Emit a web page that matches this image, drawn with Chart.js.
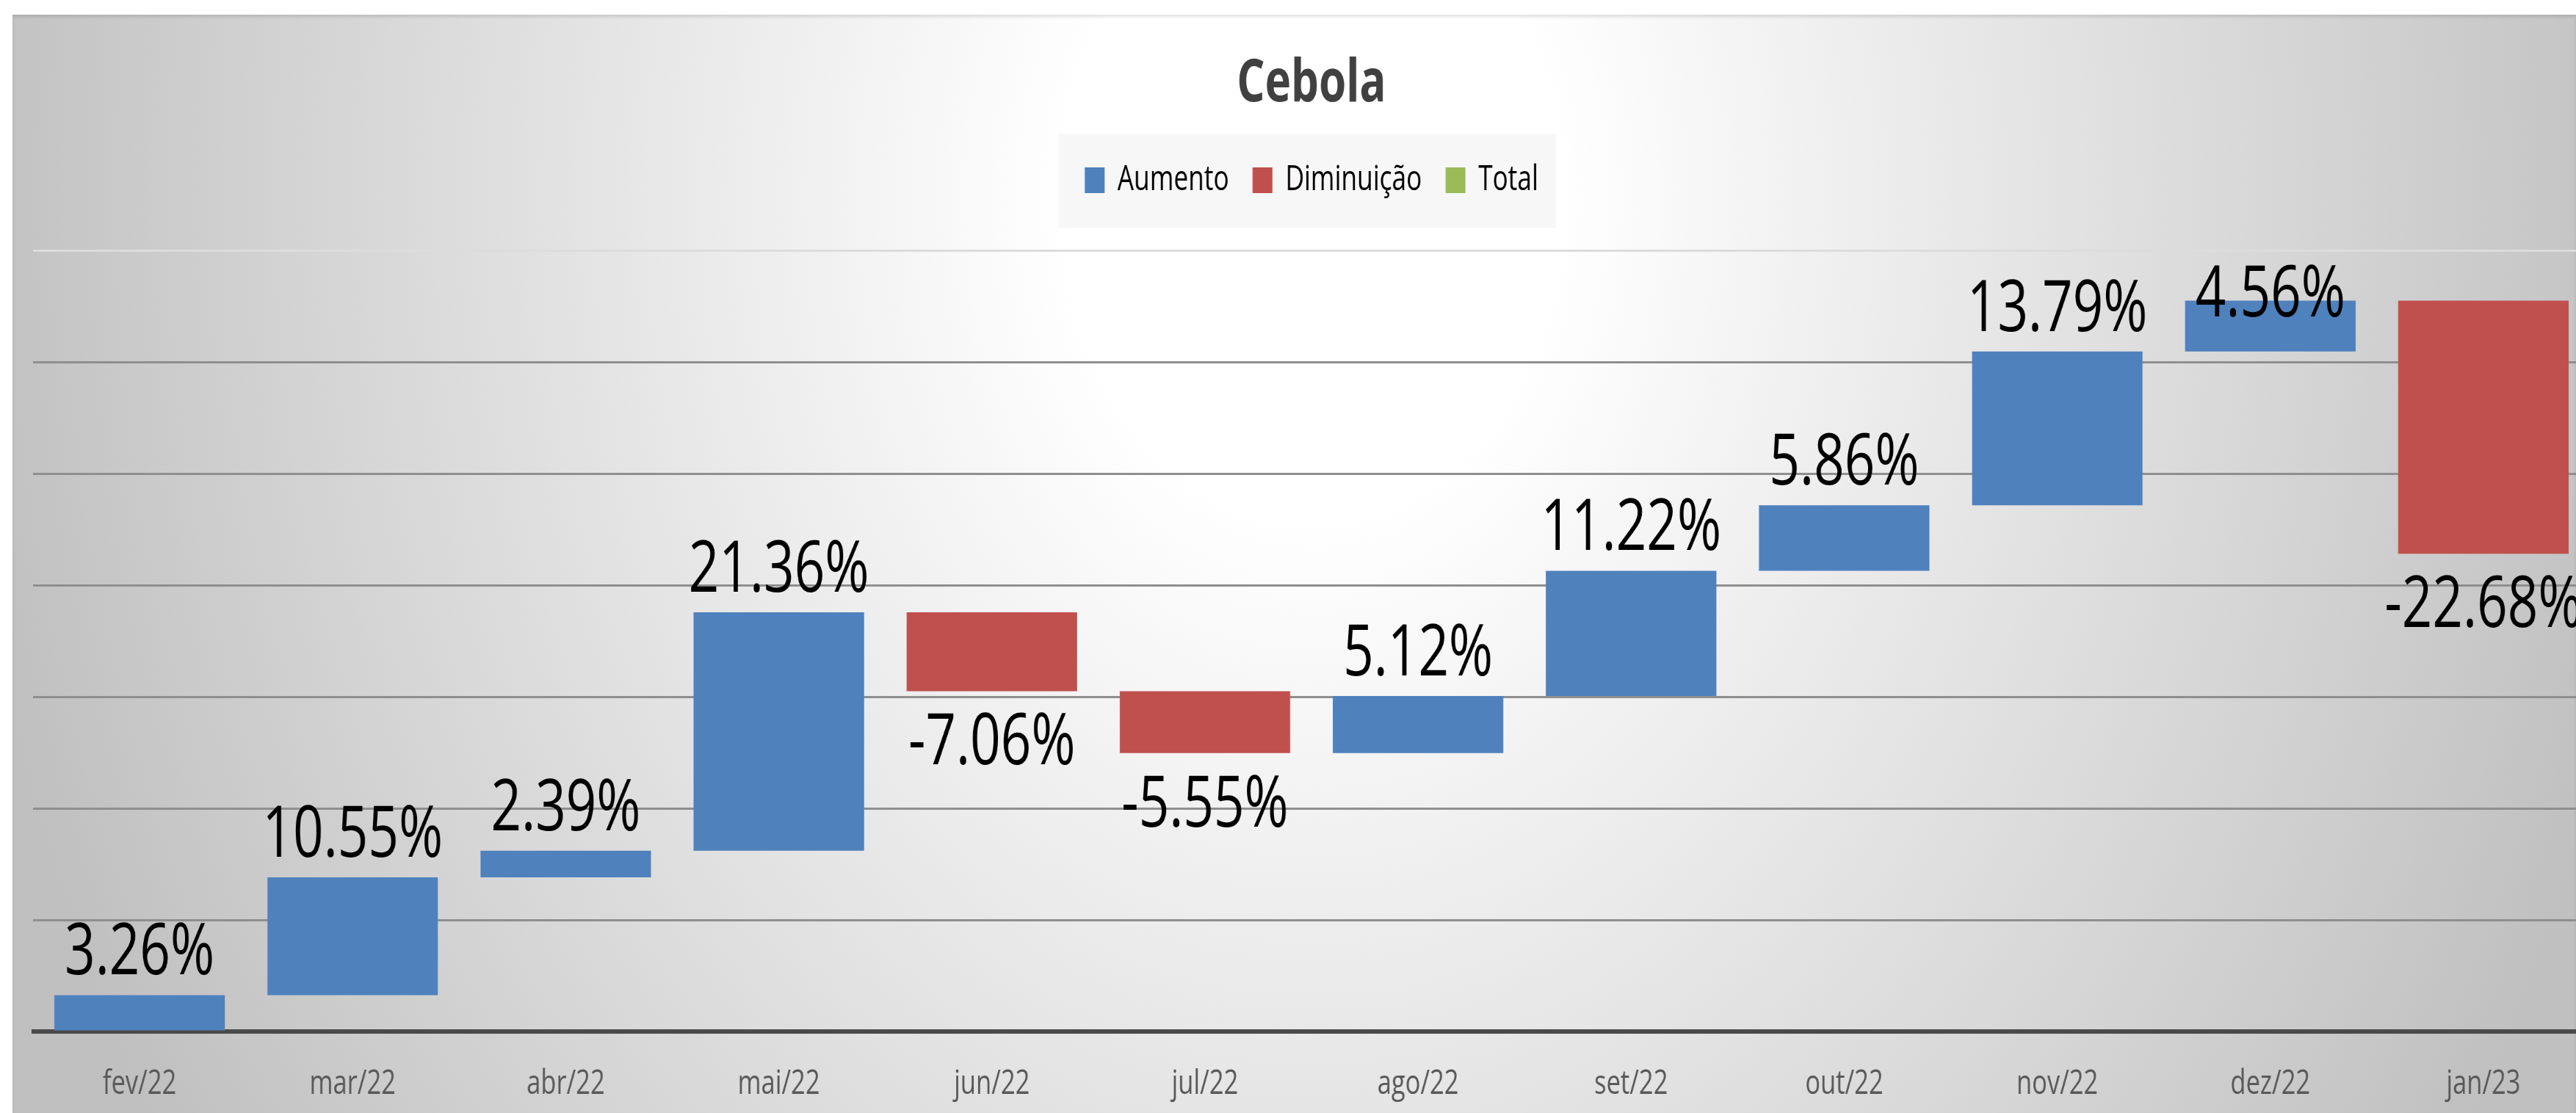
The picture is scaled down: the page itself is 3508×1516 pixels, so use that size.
<!DOCTYPE html>
<html>
<head>
<meta charset="utf-8">
<script src="https://cdn.jsdelivr.net/npm/chart.js@4.4.1/dist/chart.umd.min.js"></script>
<style>
    html, body {
        margin: 0;
        width: 3508px;
        height: 1516px;
        overflow: hidden;
        background: #ffffff;
    }
    #frame {
        position: absolute;
        left: 17px;
        top: 20px;
        width: 3491px;
        height: 1496px;
        background: radial-gradient(1850px 2400px at 1770px 250px, #ffffff 0%, #ffffff 18%, #c0c0c0 100%);
        box-shadow: inset 0 3px 4px rgba(0, 0, 0, 0.12);
    }
    /* Excel text here is narrow, so the chart is drawn wider and squeezed */
    #wrap {
        position: absolute;
        left: 0;
        top: 0;
        width: 4720px;
        height: 1516px;
        transform: scaleX(0.75);
        transform-origin: 0 0;
    }
</style>
</head>
<body>
<div id="frame"></div>
<div id="wrap"><canvas id="chart"></canvas></div>
<script>

// ===============================
// Data
// ===============================

const months = [
    "fev/22", "mar/22", "abr/22", "mai/22", "jun/22", "jul/22",
    "ago/22", "set/22", "out/22", "nov/22", "dez/22", "jan/23"
];

const changes = [
    3.26, 10.55, 2.39, 21.36, -7.06, -5.55,
    5.12, 11.22, 5.86, 13.79, 4.56, -22.68
];

const legendNames = ["Aumento", "Diminuição", "Total"];

const legendColors = ["#4F81BD", "#C0504D", "#9BBB59"];

const yMin = 0;
const yMax = 70;
const yStep = 10;

// ===============================
// Waterfall ranges
// ===============================

const ranges = [];
const barColors = [];
let running = 0;

changes.forEach(function(change){

    ranges.push([running, running + change]);
    running += change;

    barColors.push(change >= 0 ? legendColors[0] : legendColors[1]);

});

const SX = 0.75; // horizontal squeeze of the wrapper

// ===============================
// Plugins
// ===============================

const legendBoxPlugin = {
    id: "legendBox",
    beforeDraw(chart){
        const legend = chart.legend;
        if(!legend || !legend.legendHitBoxes.length) return;
        const boxes = legend.legendHitBoxes;
        const first = boxes[0];
        const last = boxes[boxes.length - 1];
        const mid = first.top + first.height / 2;
        const ctx = chart.ctx;
        ctx.save();
        ctx.fillStyle = "#f7f7f7";
        ctx.fillRect(
            first.left - 36 / SX,
            mid - 63,
            (last.left + last.width) - first.left + 60 / SX,
            128
        );
        ctx.restore();
    }
};

const valueLabelPlugin = {
    id: "valueLabels",
    afterDatasetsDraw(chart){
        const ctx = chart.ctx;
        const meta = chart.getDatasetMeta(0);
        const top = chart.chartArea.top;
        ctx.save();
        ctx.font = "97px 'Open Sans'";
        ctx.fillStyle = "#000000";
        ctx.textAlign = "center";
        ctx.textBaseline = "alphabetic";
        meta.data.forEach(function(bar, i){
            const value = changes[i];
            const upper = Math.min(bar.y, bar.base);
            const lower = Math.max(bar.y, bar.base);
            let y;
            if(value >= 0){
                y = upper - 28;
                if(y - 69 < top + 21){
                    y = top + 21 + 69;
                }
            }else{
                y = lower + 31 + 69;
            }
            ctx.fillText(value.toFixed(2) + "%", bar.x, y);
        });
        ctx.restore();
    }
};

// ===============================
// Chart
// ===============================

const canvas = document.getElementById("chart");

new Chart(canvas, {

    type: "bar",

    data: {
        labels: months,
        datasets: [{
            data: ranges,
            backgroundColor: barColors,
            borderWidth: 0,
            barPercentage: 0.8,
            categoryPercentage: 1.0,
            xAxisID: "x",
            yAxisID: "y"
        }]
    },

    options: {

        responsive: true,
        maintainAspectRatio: false,
        animation: false,
        devicePixelRatio: 1,

        layout: {
            padding: {
                left: 45 / SX,
                right: 13 / SX,
                top: 0,
                bottom: 0
            }
        },

        plugins: {

            title: {
                display: true,
                text: "Cebola",
                color: "#404040",
                font: {
                    family: "'Open Sans'",
                    size: 80,
                    weight: "bold",
                    lineHeight: 1.2
                },
                padding: {
                    top: 67,
                    bottom: 16
                }
            },

            legend: {
                display: true,
                position: "top",
                labels: {
                    boxWidth: 27 / SX,
                    boxHeight: 35,
                    padding: 43,
                    color: "#404040",
                    font: {
                        family: "'Open Sans'",
                        size: 47
                    },
                    generateLabels: function(){
                        return legendNames.map(function(name, i){
                            return {
                                text: name,
                                fillStyle: legendColors[i],
                                strokeStyle: legendColors[i],
                                lineWidth: 0,
                                hidden: false,
                                index: i
                            };
                        });
                    }
                }
            },

            tooltip: {
                enabled: false
            }

        },

        scales: {

            x: {
                type: "category",
                position: "bottom",
                grid: {
                    display: true,
                    color: "rgba(0,0,0,0)",
                    drawTicks: false
                },
                border: {
                    display: true,
                    color: "#4a4a4a",
                    width: 6
                },
                ticks: {
                    color: "#595959",
                    padding: 44,
                    font: {
                        family: "'Open Sans'",
                        size: 46
                    }
                },
                afterFit: function(scale){
                    scale.height = 111;
                }
            },

            gap: {
                type: "category",
                position: "top",
                grid: {
                    display: false,
                    drawTicks: false
                },
                border: {
                    display: false
                },
                ticks: {
                    display: false
                },
                afterFit: function(scale){
                    scale.height = 62;
                }
            },

            y: {
                min: yMin,
                max: yMax,
                grid: {
                    drawTicks: false,
                    lineWidth: 3,
                    color: function(ctx){
                        if(!ctx.tick) return "#8f8f8f";
                        if(ctx.tick.value === yMin) return "rgba(0,0,0,0)";
                        if(ctx.tick.value === yMax) return "#dcdcdc";
                        return "#8f8f8f";
                    }
                },
                border: {
                    display: false
                },
                ticks: {
                    display: false,
                    stepSize: yStep
                }
            }

        }

    },

    plugins: [legendBoxPlugin, valueLabelPlugin]

});

</script>
</body>
</html>
